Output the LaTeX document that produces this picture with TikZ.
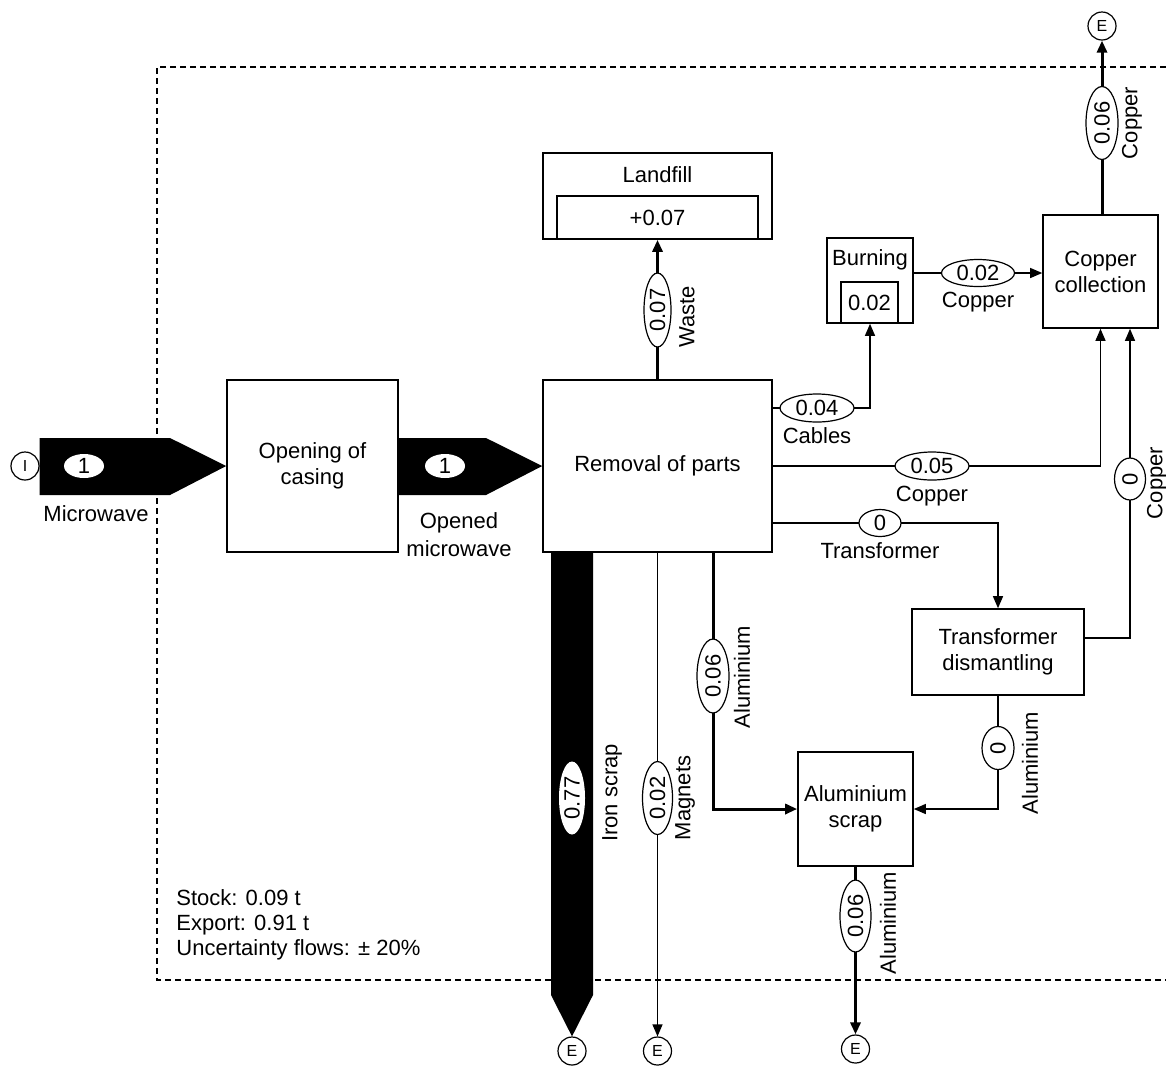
\documentclass[tikz,border=0pt]{standalone}
\usepackage{fontspec}
\setmainfont{Liberation Sans}
\usetikzlibrary{arrows.meta,shapes.geometric,calc}
\newcommand{\fs}{\fontsize{11}{13}\selectfont}
\newcommand{\fe}{\fontsize{8}{9}\selectfont}
\begin{document}
\begin{tikzpicture}[x=0.5pt,y=-0.5pt,
 box/.style={draw, line width=0.8pt, fill=white, inner sep=0pt, align=center, font=\fs},
 val/.style={draw, ellipse, fill=white, inner sep=0pt, line width=0.6pt, font=\fs},
 lab/.style={inner sep=0pt, font=\fs, align=center},
 term/.style={draw, circle, minimum size=14pt, inner sep=0pt, line width=0.6pt, font=\fe},
 thinflow/.style={line width=0.6pt},
 heavy/.style={line width=1.5pt},
 arr/.style={-{Triangle[length=6pt,width=5pt]}},
 bound/.style={dash pattern=on 3pt off 2pt, line width=0.6pt}
]
\useasboundingbox (0,0) rectangle (1166,1067);

% system boundary
\draw[bound] (1166,67) -- (157,67) -- (157,980) -- (1166,980);

% processes
\node[box, minimum width=85.5pt, minimum height=86pt] (open) at (312.5,466) {Opening of\\casing};
\node[box, minimum width=114.5pt, minimum height=86pt] (rem) at (657.5,466) {Removal of parts};
\node[box, minimum width=114.5pt, minimum height=43pt] (land) at (657.5,196) {};
\node[lab] (landt) at (657.5,175) {Landfill};
\node[box, minimum width=100.5pt, minimum height=21.5pt] (landin) at (657.5,217.5) {+0.07};
\node[box, minimum width=43pt, minimum height=42.5pt] (burn) at (870,280.5) {};
\node[lab] (burnt) at (870,260) {Burning};
\node[box, minimum width=28.5pt, minimum height=20.5pt] (burnin) at (869.5,302.5) {0.02};
\node[box, minimum width=57.5pt, minimum height=56.5pt] (cc) at (1100.5,271.5) {Copper\\collection};
\node[box, minimum width=86pt, minimum height=43pt] (td) at (998,652) {Transformer\\dismantling};
\node[box, minimum width=57.5pt, minimum height=57pt] (al) at (855.5,809) {Aluminium\\scrap};

% terminals
\node[term] (tI) at (25,466) {I};
\node[term] (e1) at (1102,26) {E};
\node[term] (e2) at (572,1051) {E};
\node[term] (e3) at (657.5,1051) {E};
\node[term] (e4) at (855.5,1049) {E};

% big arrows
\fill (tI.east |- 0,438) -- (170,438) -- (open.west) -- (170,495) -- (tI.east |- 0,495) -- cycle;
\node[val, draw=none, minimum width=20pt, minimum height=12pt] (v1) at (84,466) {1};
\node[lab] (l1) at (96,514) {Microwave};
\fill (open.east |- 0,438) -- (486,438) -- (rem.west) -- (486,495) -- (open.east |- 0,495) -- cycle;
\node[val, draw=none, minimum width=20pt, minimum height=12pt] (v2) at (445,466) {1};
\node[lab, font=\fontsize{11}{14}\selectfont] (l2) at (459,534.5) {Opened\\microwave};

% iron scrap
\fill (rem.south -| 551,0) -- (rem.south -| 593,0) -- (593,995) -- (e2.north) -- (551,995) -- cycle;
\node[val, draw=none, rotate=90, minimum width=36.5pt, minimum height=13pt] (v3) at (572,798) {0.77};
\node[lab, rotate=90] (l3) at (612,793) {Iron scrap};

% waste
\draw[heavy, arr] (rem.north) -- (land.south);
\node[val, rotate=90, minimum width=37pt, minimum height=13.5pt] (v4) at (657.5,310) {0.07};
\node[lab, rotate=90] (l4) at (687,317) {Waste};

% cables
\draw[thinflow, arr] (rem.east |- 0,408) -| (burn.south);
\node[val, minimum width=37pt, minimum height=14pt] (v5) at (817,408) {0.04};
\node[lab] (l5) at (817,436) {Cables};

% copper 0.05
\draw[thinflow, arr] (rem.east) -| (cc.south);
\node[val, minimum width=37pt, minimum height=14pt] (v6) at (932,466) {0.05};
\node[lab] (l6) at (932,496) {Copper};

% transformer
\draw[thinflow, arr] (rem.east |- 0,523) -| (td.north);
\node[val, minimum width=21pt, minimum height=13.5pt] (v7) at (880,523) {0};
\node[lab] (l7) at (880,551) {Transformer};

% copper 0 from TD
\draw[thinflow, arr] (td.east |- 0,638) -| (cc.south -| 1130,0);
\node[val, rotate=90, minimum width=21pt, minimum height=15.5pt] (v8) at (1130,479) {0};
\node[lab, rotate=90] (l8) at (1157,483) {Copper};

% burning -> copper collection
\draw[thinflow, arr] (burn.east |- 0,273) -- (cc.west |- 0,273);
\node[val, minimum width=36.5pt, minimum height=13.5pt] (v9) at (978,273) {0.02};
\node[lab] (l9) at (978,302) {Copper};

% copper export
\draw[heavy, arr] (cc.north -| e1) -- (e1.south);
\node[val, rotate=90, minimum width=36.5pt, minimum height=16pt] (v10) at (1102,123) {0.06};
\node[lab, rotate=90] (l10) at (1132,123) {Copper};

% aluminium from removal
\draw[heavy, arr] (rem.south -| 713,0) |- (al.west);
\node[val, rotate=90, minimum width=37pt, minimum height=16pt] (v11) at (713,676) {0.06};
\node[lab, rotate=90] (l11) at (742,677) {Aluminium};

% magnets
\draw[thinflow, arr] (rem.south) -- (e3.north);
\node[val, rotate=90, minimum width=36.5pt, minimum height=15pt] (v12) at (657.5,798) {0.02};
\node[lab, rotate=90] (l12) at (685,798) {Magnets};

% aluminium from TD
\draw[thinflow, arr] (td.south) |- (al.east);
\node[val, rotate=90, minimum width=21.5pt, minimum height=16pt] (v13) at (998,748) {0};
\node[lab, rotate=90] (l13) at (1030,763) {Aluminium};

% aluminium export
\draw[heavy, arr] (al.south) -- (e4.north);
\node[val, rotate=90, minimum width=36pt, minimum height=15.5pt] (v14) at (855.5,916) {0.06};
\node[lab, rotate=90] (l14) at (888,923) {Aluminium};

% summary
\node[lab, align=left, anchor=west, font=\fontsize{11}{12.5}\selectfont] (sum) at (176,925) {Stock: 0.09 t\\Export: 0.91 t\\Uncertainty flows: ± 20\%};
\end{tikzpicture}
\end{document}
